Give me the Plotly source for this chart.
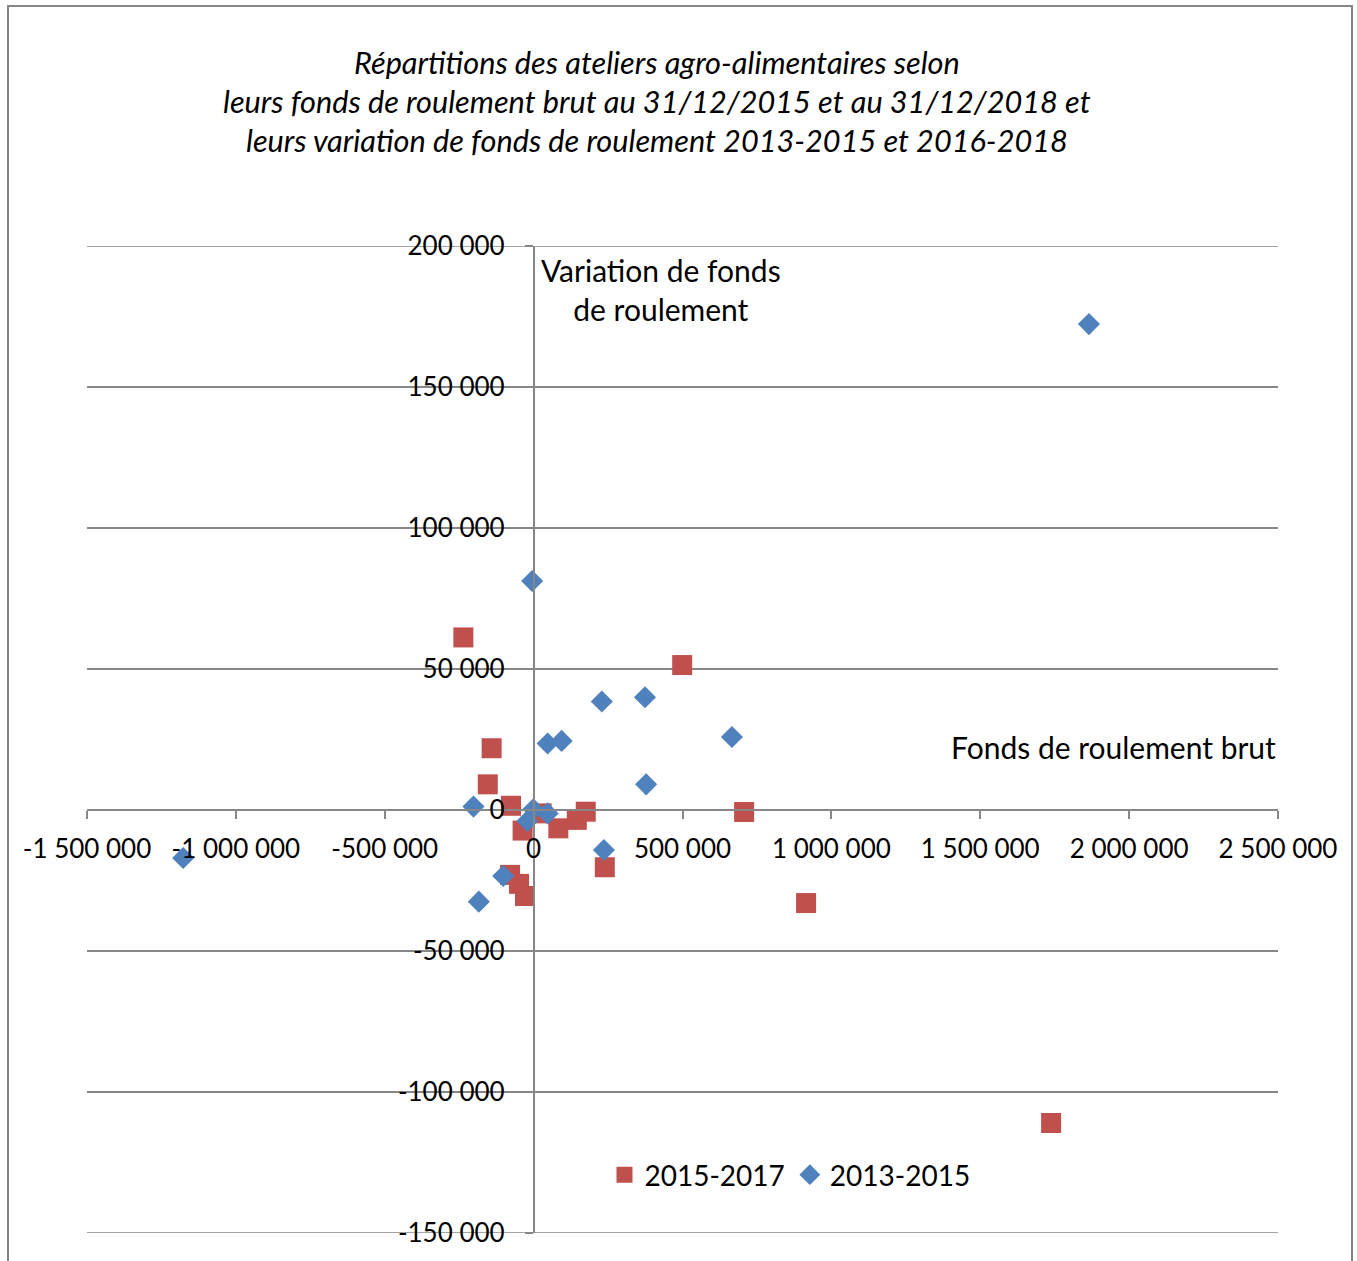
import plotly.graph_objects as go

# 2015-2017 series (red squares)
x_2015_2017 = [-236000, 499000, -141000, -154000, -76000, 27000, -37000, 83000, 145000, 175000,
               239000, -79000, -49000, -29000, 707000, 915000, 1738000]
y_2015_2017 = [61200, 51400, 21900, 9100, 1500, -1200, -7300, -6500, -3500, -600,
               -20300, -23000, -26200, -30500, -700, -33000, -111000]

# 2013-2015 series (blue diamonds)
x_2013_2015 = [1865000, -5000, 229000, 374000, 47000, 94000, 378000, -202000, -1000, 47000,
               -21000, 236000, -102000, -184000, 666000, -1177000]
y_2013_2015 = [172300, 81200, 38500, 40000, 23600, 24500, 9100, 1200, 250, -1200,
               -3900, -14200, -23400, -32500, 25900, -17000]

x_tickvals = [-1500000, -1000000, -500000, 0, 500000, 1000000, 1500000, 2000000, 2500000]
x_ticktext = ["-1 500 000", "-1 000 000", "-500 000", "0", "500 000", "1 000 000",
              "1 500 000", "2 000 000", "2 500 000"]
y_tickvals = [-150000, -100000, -50000, 0, 50000, 100000, 150000, 200000]
y_ticktext = ["-150 000", "-100 000", "-50 000", "0", "50 000", "100 000", "150 000", "200 000"]

title_lines = [
    "Répartitions des ateliers agro-alimentaires selon",
    "leurs fonds de roulement brut au 31/12/2015 et au 31/12/2018 et",
    "leurs variation de fonds de roulement 2013-2015 et 2016-2018",
]

FONT = "Lato"
GRID = "#878787"
W, H = 1357, 1261
L, R, T, B = 87, 1278, 246, 1233


def px(xp):
    return (xp - L) / (R - L)


def py(yp):
    return (B - yp) / (B - T)


fig = go.Figure()
fig.add_trace(go.Scatter(
    x=x_2015_2017, y=y_2015_2017, mode="markers", name="2015-2017",
    marker=dict(symbol="square", size=20, color="#C0504D"),
))
fig.add_trace(go.Scatter(
    x=x_2013_2015, y=y_2013_2015, mode="markers", name="2013-2015",
    marker=dict(symbol="diamond", size=17, color="#4F81BD"),
))

xr = [-1500000, 2500000]
yr = [-150000, 200000]
ypos = (0 - xr[0]) / (xr[1] - xr[0])
xpos = (0 - yr[0]) / (yr[1] - yr[0])

fig.update_layout(
    width=W, height=H,
    margin=dict(l=L, r=W - R, t=T, b=H - B, pad=0),
    paper_bgcolor="white", plot_bgcolor="white",
    font=dict(family=FONT, size=26, color="black"),
    showlegend=True,
    legend=dict(orientation="h", x=px(790), y=py(1175),
                xanchor="center", yanchor="middle", font=dict(size=28),
                bgcolor="rgba(0,0,0,0)"),
    xaxis=dict(range=xr, tickvals=x_tickvals, ticktext=x_ticktext, showgrid=False,
               zeroline=False, showline=True, linecolor=GRID, linewidth=1.5,
               ticks="outside", ticklen=8, tickcolor=GRID, tickwidth=1.5,
               anchor="free", position=xpos, ticklabelstandoff=8,
               tickfont=dict(size=26)),
    yaxis=dict(range=yr, tickvals=y_tickvals, ticktext=y_ticktext, showgrid=True,
               gridcolor=GRID, gridwidth=1.5, zeroline=False, showline=True,
               linecolor=GRID, linewidth=1.5, ticks="outside", ticklen=8,
               tickcolor=GRID, tickwidth=1.5, anchor="free", position=ypos,
               ticklabelstandoff=15, tickfont=dict(size=26)),
)

# Edge gridlines (top and bottom of the value range)
for yv in (yr[0], yr[1]):
    fig.add_shape(type="line", xref="paper", yref="y", x0=0, x1=1, y0=yv, y1=yv,
                  line=dict(color=GRID, width=1.5), layer="below")

# Title lines
for i, line in enumerate(title_lines):
    fig.add_annotation(text="<i>" + line + "</i>", xref="paper", yref="paper",
                       x=px(657), y=py(62 + 39 * i),
                       xanchor="center", yanchor="middle", showarrow=False,
                       font=dict(size=30.7, family=FONT))

# Axis titles
fig.add_annotation(text="Variation de fonds<br>de roulement", xref="paper", yref="paper",
                   x=px(661), y=py(289), xanchor="center",
                   yanchor="middle", showarrow=False, align="center",
                   font=dict(size=30, family=FONT))
fig.add_annotation(text="Fonds de roulement brut", xref="paper", yref="paper",
                   x=px(1278), y=py(747), xanchor="right", yanchor="middle",
                   showarrow=False, font=dict(size=30, family=FONT))

# Outer chart border
fig.add_shape(type="rect", xref="paper", yref="paper",
              x0=px(8), x1=px(1352), y0=py(1275), y1=py(6),
              line=dict(color=GRID, width=2), layer="below")

fig.write_html("out.html", config={"displayModeBar": False},
               post_script="document.body.style.margin='0';document.body.style.overflow='hidden';")
